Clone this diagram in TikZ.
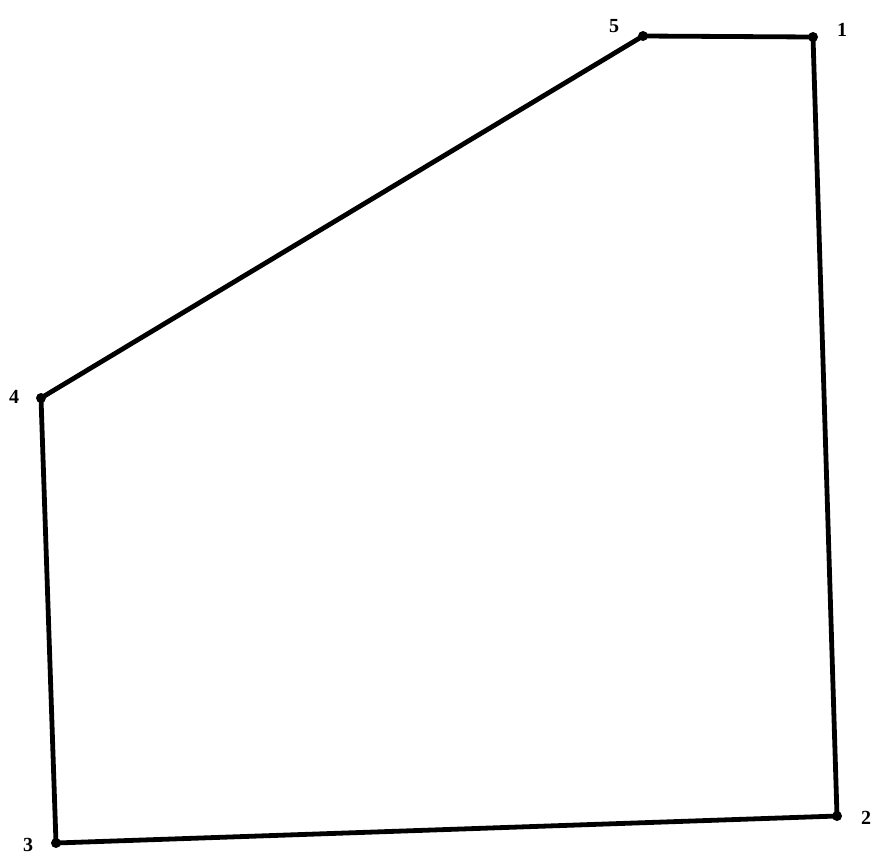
\documentclass[tikz,border=0pt]{standalone}
\usepackage{fontspec}
\setmainfont{Liberation Serif}
\begin{document}
\begin{tikzpicture}[x=0.75pt,y=-0.75pt,
  edge/.style={line width=3.6pt,line join=round,line cap=round},
  vtx/.style={circle,fill=black,inner sep=0pt,minimum size=7.5pt},
  lab/.style={font=\fontsize{15}{18}\selectfont\bfseries,inner sep=0pt}]
\useasboundingbox (0,0) rectangle (874,854);
\node[vtx] (p1) at (813,37) {};
\node[vtx] (p2) at (837,816) {};
\node[vtx] (p3) at (56,843) {};
\node[vtx] (p4) at (41,398) {};
\node[vtx] (p5) at (643,36) {};
\draw[edge] (p1.center) -- (p2.center) -- (p3.center) -- (p4.center) -- (p5.center) -- cycle;
\node[lab] (l1) at (842,30) {1};
\node[lab] (l2) at (866,818) {2};
\node[lab] (l3) at (28,845) {3};
\node[lab] (l4) at (14,397) {4};
\node[lab] (l5) at (614,26) {5};
\end{tikzpicture}
\end{document}
